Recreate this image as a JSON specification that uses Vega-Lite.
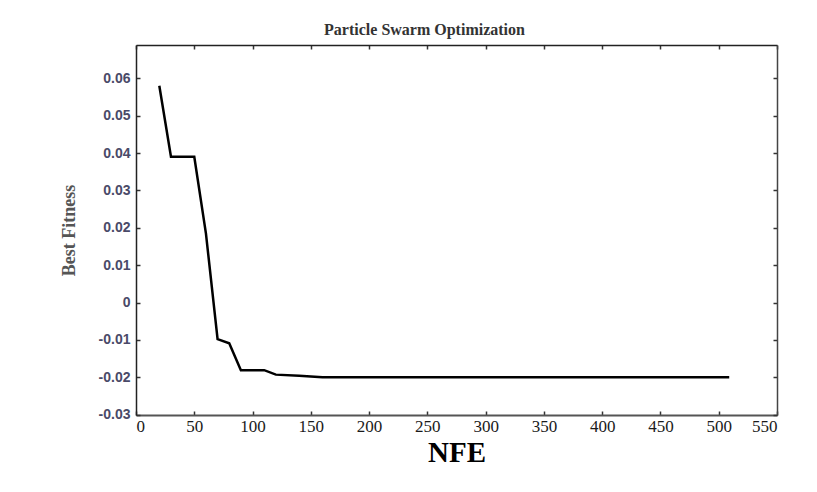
{
  "$schema": "https://vega.github.io/schema/vega-lite/v6.json",
  "width": 641,
  "height": 370,
  "autosize": {"type": "none"},
  "padding": {"left": 136, "top": 45, "right": 40, "bottom": 77},
  "background": "white",
  "title": {"text": "Particle Swarm Optimization", "font": "Liberation Serif", "fontSize": 16, "fontWeight": "bold", "color": "#333333", "offset": 6, "dx": -32},
  "config": {"view": {"stroke": null}},
  "data": {"values": [
    {"NFE": 20, "fitness": 0.058},
    {"NFE": 30, "fitness": 0.039},
    {"NFE": 50, "fitness": 0.039},
    {"NFE": 60, "fitness": 0.0185},
    {"NFE": 70, "fitness": -0.0098},
    {"NFE": 80, "fitness": -0.0109},
    {"NFE": 90, "fitness": -0.0181},
    {"NFE": 110, "fitness": -0.0181},
    {"NFE": 120, "fitness": -0.0193},
    {"NFE": 140, "fitness": -0.0196},
    {"NFE": 160, "fitness": -0.0200},
    {"NFE": 509, "fitness": -0.0200}
  ]},
  "layer": [
    {
      "mark": {"type": "line", "color": "black", "strokeWidth": 2.5},
      "encoding": {
        "x": {"field": "NFE", "type": "quantitative", "scale": {"domain": [0, 550], "nice": false},
          "axis": {"values": [0,50,100,150,200,250,300,350,400,450,500,550], "grid": false, "tickSize": -4, "tickColor": "#333333", "tickWidth": 1.5,
            "domainColor": "#555555", "domainWidth": 2, "labelFont": "Liberation Serif", "labelFontSize": 17, "labelColor": "#1a1a1a", "labelPadding": 7,
            "title": "NFE", "titleFont": "Liberation Serif", "titleFontSize": 29, "titleFontWeight": "bold", "titleColor": "black", "titlePadding": 4}},
        "y": {"field": "fitness", "type": "quantitative", "scale": {"domain": [-0.0301, 0.0689], "nice": false, "zero": false},
          "axis": {"values": [-0.03,-0.02,-0.01,0,0.01,0.02,0.03,0.04,0.05,0.06], "grid": false, "tickSize": -4, "tickColor": "#333333", "tickWidth": 1.5,
            "domainColor": "#222222", "domainWidth": 1.5, "labelFont": "Liberation Sans", "labelFontSize": 14, "labelFontWeight": "bold", "labelColor": "#4a4a68", "labelPadding": 10,
            "labelExpr": "datum.value == 0 ? '0' : (datum.value < 0 ? '-' + format(-datum.value, '.2f') : format(datum.value, '.2f'))",
            "title": "Best Fitness", "titleFont": "Liberation Serif", "titleFontSize": 18, "titleFontWeight": "bold", "titleColor": "#555555", "titlePadding": 20}}
      }
    },
    {
      "mark": {"type": "line", "strokeOpacity": 0},
      "encoding": {
        "x": {"field": "NFE", "type": "quantitative", "scale": {"domain": [0, 550], "nice": false},
          "axis": {"orient": "top", "values": [0,50,100,150,200,250,300,350,400,450,500,550], "grid": false, "labels": false, "title": null, "tickSize": -4, "tickColor": "#333333", "tickWidth": 1.5, "domainColor": "#222222", "domainWidth": 1.5}},
        "y": {"field": "fitness", "type": "quantitative", "scale": {"domain": [-0.0301, 0.0689], "nice": false, "zero": false},
          "axis": {"orient": "right", "values": [-0.03,-0.02,-0.01,0,0.01,0.02,0.03,0.04,0.05,0.06], "grid": false, "labels": false, "title": null, "tickSize": -4, "tickColor": "#333333", "tickWidth": 1.5, "domainColor": "#444444", "domainWidth": 1.5}}
      }
    }
  ],
  "resolve": {"axis": {"x": "independent", "y": "independent"}}
}
